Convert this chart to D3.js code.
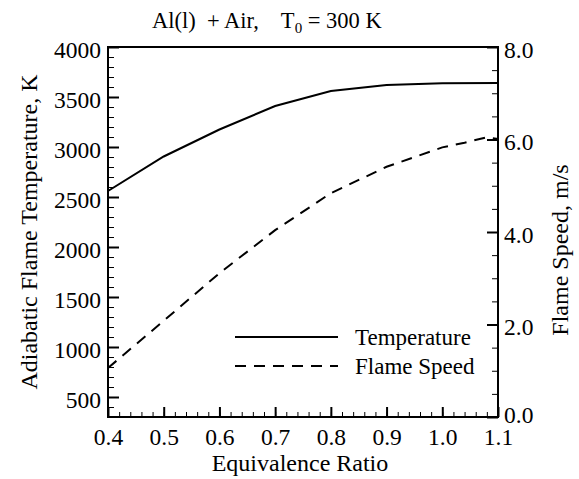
<!DOCTYPE html>
<html>
<head>
<meta charset="utf-8">
<script src="https://cdn.jsdelivr.net/npm/d3@7"></script>
<style>
  html, body { margin: 0; padding: 0; background: #fff; }
</style>
</head>
<body>
<svg id="chart" width="579" height="479"></svg>
<script>
// ---- data ----
const ratio       = [0.4, 0.5, 0.6, 0.7, 0.8, 0.9, 1.0, 1.1];
const temperature = [2560, 2905, 3175, 3410, 3560, 3620, 3637, 3640];
const speedRatio  = [0.4, 0.5, 0.6, 0.7, 0.8, 0.9, 1.0, 1.04, 1.08, 1.1];
const flameSpeed  = [1.06, 2.08, 3.11, 4.04, 4.84, 5.41, 5.83, 5.93, 6.05, 6.01];
const xTicks      = [0.4, 0.5, 0.6, 0.7, 0.8, 0.9, 1.0, 1.1];
const leftTicks   = [500, 1000, 1500, 2000, 2500, 3000, 3500, 4000];
const rightTicks  = [0, 2, 4, 6, 8];
const legendNames = ["Temperature", "Flame Speed"];

// ---- layout ----
const FONT = "'Liberation Serif', 'Times New Roman', serif";
const svg = d3.select("#chart");
const L = 108, R = 498, T = 47, B = 417;
const x  = d3.scaleLinear().domain([0.4, 1.1]).range([L, R]);
const yL = d3.scaleLinear().domain([300, 4000]).range([B, T]);
const yR = d3.scaleLinear().domain([0, 8]).range([B, T]);

const fontTick = 23.5, fontTitle = 24;

function styleAxis(g, sw) {
  g.attr("font-family", null).attr("font-size", null);
  g.select(".domain").remove();
  g.selectAll(".tick line").attr("stroke", "#000").attr("stroke-width", sw);
  g.selectAll(".tick text").style("font-family", FONT).style("font-size", fontTick + "px").attr("fill", "#000");
}

// minor ticks
const xMinor = d3.range(0.4, 1.1001, 0.02).map(v => +v.toFixed(2));
const yLMinor = d3.range(400, 4001, 100);
const yRMinor = d3.range(0, 8.001, 0.5);

svg.append("g").attr("transform", `translate(0,${B})`)
  .call(d3.axisBottom(x).tickValues(xMinor).tickSize(-5).tickFormat(""))
  .call(g => styleAxis(g, 1));
svg.append("g").attr("transform", `translate(${L},0)`)
  .call(d3.axisLeft(yL).tickValues(yLMinor).tickSize(-6).tickFormat(""))
  .call(g => styleAxis(g, 1));
svg.append("g").attr("transform", `translate(${R},0)`)
  .call(d3.axisRight(yR).tickValues(yRMinor).tickSize(-6).tickFormat(""))
  .call(g => styleAxis(g, 1));

// major ticks with labels
svg.append("g").attr("transform", `translate(0,${B})`)
  .call(d3.axisBottom(x).tickValues(xTicks).tickSize(-10).tickPadding(11).tickFormat(d3.format(".1f")))
  .call(g => styleAxis(g, 2));
svg.append("g").attr("transform", `translate(${L},0)`)
  .call(d3.axisLeft(yL).tickValues(leftTicks).tickSize(-11).tickPadding(7).tickFormat(d3.format("d")))
  .call(g => styleAxis(g, 2))
  .call(g => g.selectAll(".tick text").attr("dy", "0.43em"));
svg.append("g").attr("transform", `translate(${R},0)`)
  .call(d3.axisRight(yR).tickValues(rightTicks).tickSize(-11).tickPadding(6).tickFormat(d3.format(".1f")))
  .call(g => styleAxis(g, 2))
  .call(g => g.selectAll(".tick text").attr("dy", d => d === 0 ? "0.25em" : "0.43em"));

// frame
svg.append("rect").attr("x", L).attr("y", T).attr("width", R - L).attr("height", B - T)
  .attr("fill", "none").attr("stroke", "#000").attr("stroke-width", 2);

// lines
const tempLine = d3.line().x((d, i) => x(ratio[i])).y(d => yL(d));
const speedLine = d3.line().x((d, i) => x(speedRatio[i])).y(d => yR(d));

svg.append("path").datum(temperature).attr("d", tempLine)
  .attr("fill", "none").attr("stroke", "#000").attr("stroke-width", 2);
svg.append("path").datum(flameSpeed).attr("d", speedLine)
  .attr("fill", "none").attr("stroke", "#000").attr("stroke-width", 2)
  .attr("stroke-dasharray", "11,8");

// title
const title = svg.append("text").attr("x", 152).attr("y", 28)
  .style("font-family", FONT).style("font-size", "22.5px").style("white-space", "pre");
title.append("tspan").text("Al(l)  + Air,    T");
title.append("tspan").style("font-size", "15px").attr("dy", 5).text("0");
title.append("tspan").attr("dy", -5).text(" = 300 K");

// axis titles
svg.append("text").attr("x", 300).attr("y", 471).attr("text-anchor", "middle")
  .style("font-family", FONT).style("font-size", fontTitle + "px").text("Equivalence Ratio");
svg.append("text").attr("transform", "translate(37,232) rotate(-90)").attr("text-anchor", "middle")
  .style("font-family", FONT).style("font-size", fontTitle + "px").text("Adiabatic Flame Temperature, K");
svg.append("text").attr("transform", "translate(568,250) rotate(-90)").attr("text-anchor", "middle")
  .style("font-family", FONT).style("font-size", fontTitle + "px").text("Flame Speed, m/s");

// legend
const legY = [337, 366];
const legDash = [null, "11,8"];
legendNames.forEach((name, i) => {
  svg.append("line").attr("x1", 235).attr("x2", 338).attr("y1", legY[i]).attr("y2", legY[i])
    .attr("stroke", "#000").attr("stroke-width", 2).attr("stroke-dasharray", legDash[i]);
  svg.append("text").attr("x", 355).attr("y", legY[i]).attr("dy", "0.33em")
    .style("font-family", FONT).style("font-size", "23px").text(name);
});
</script>
</body>
</html>
